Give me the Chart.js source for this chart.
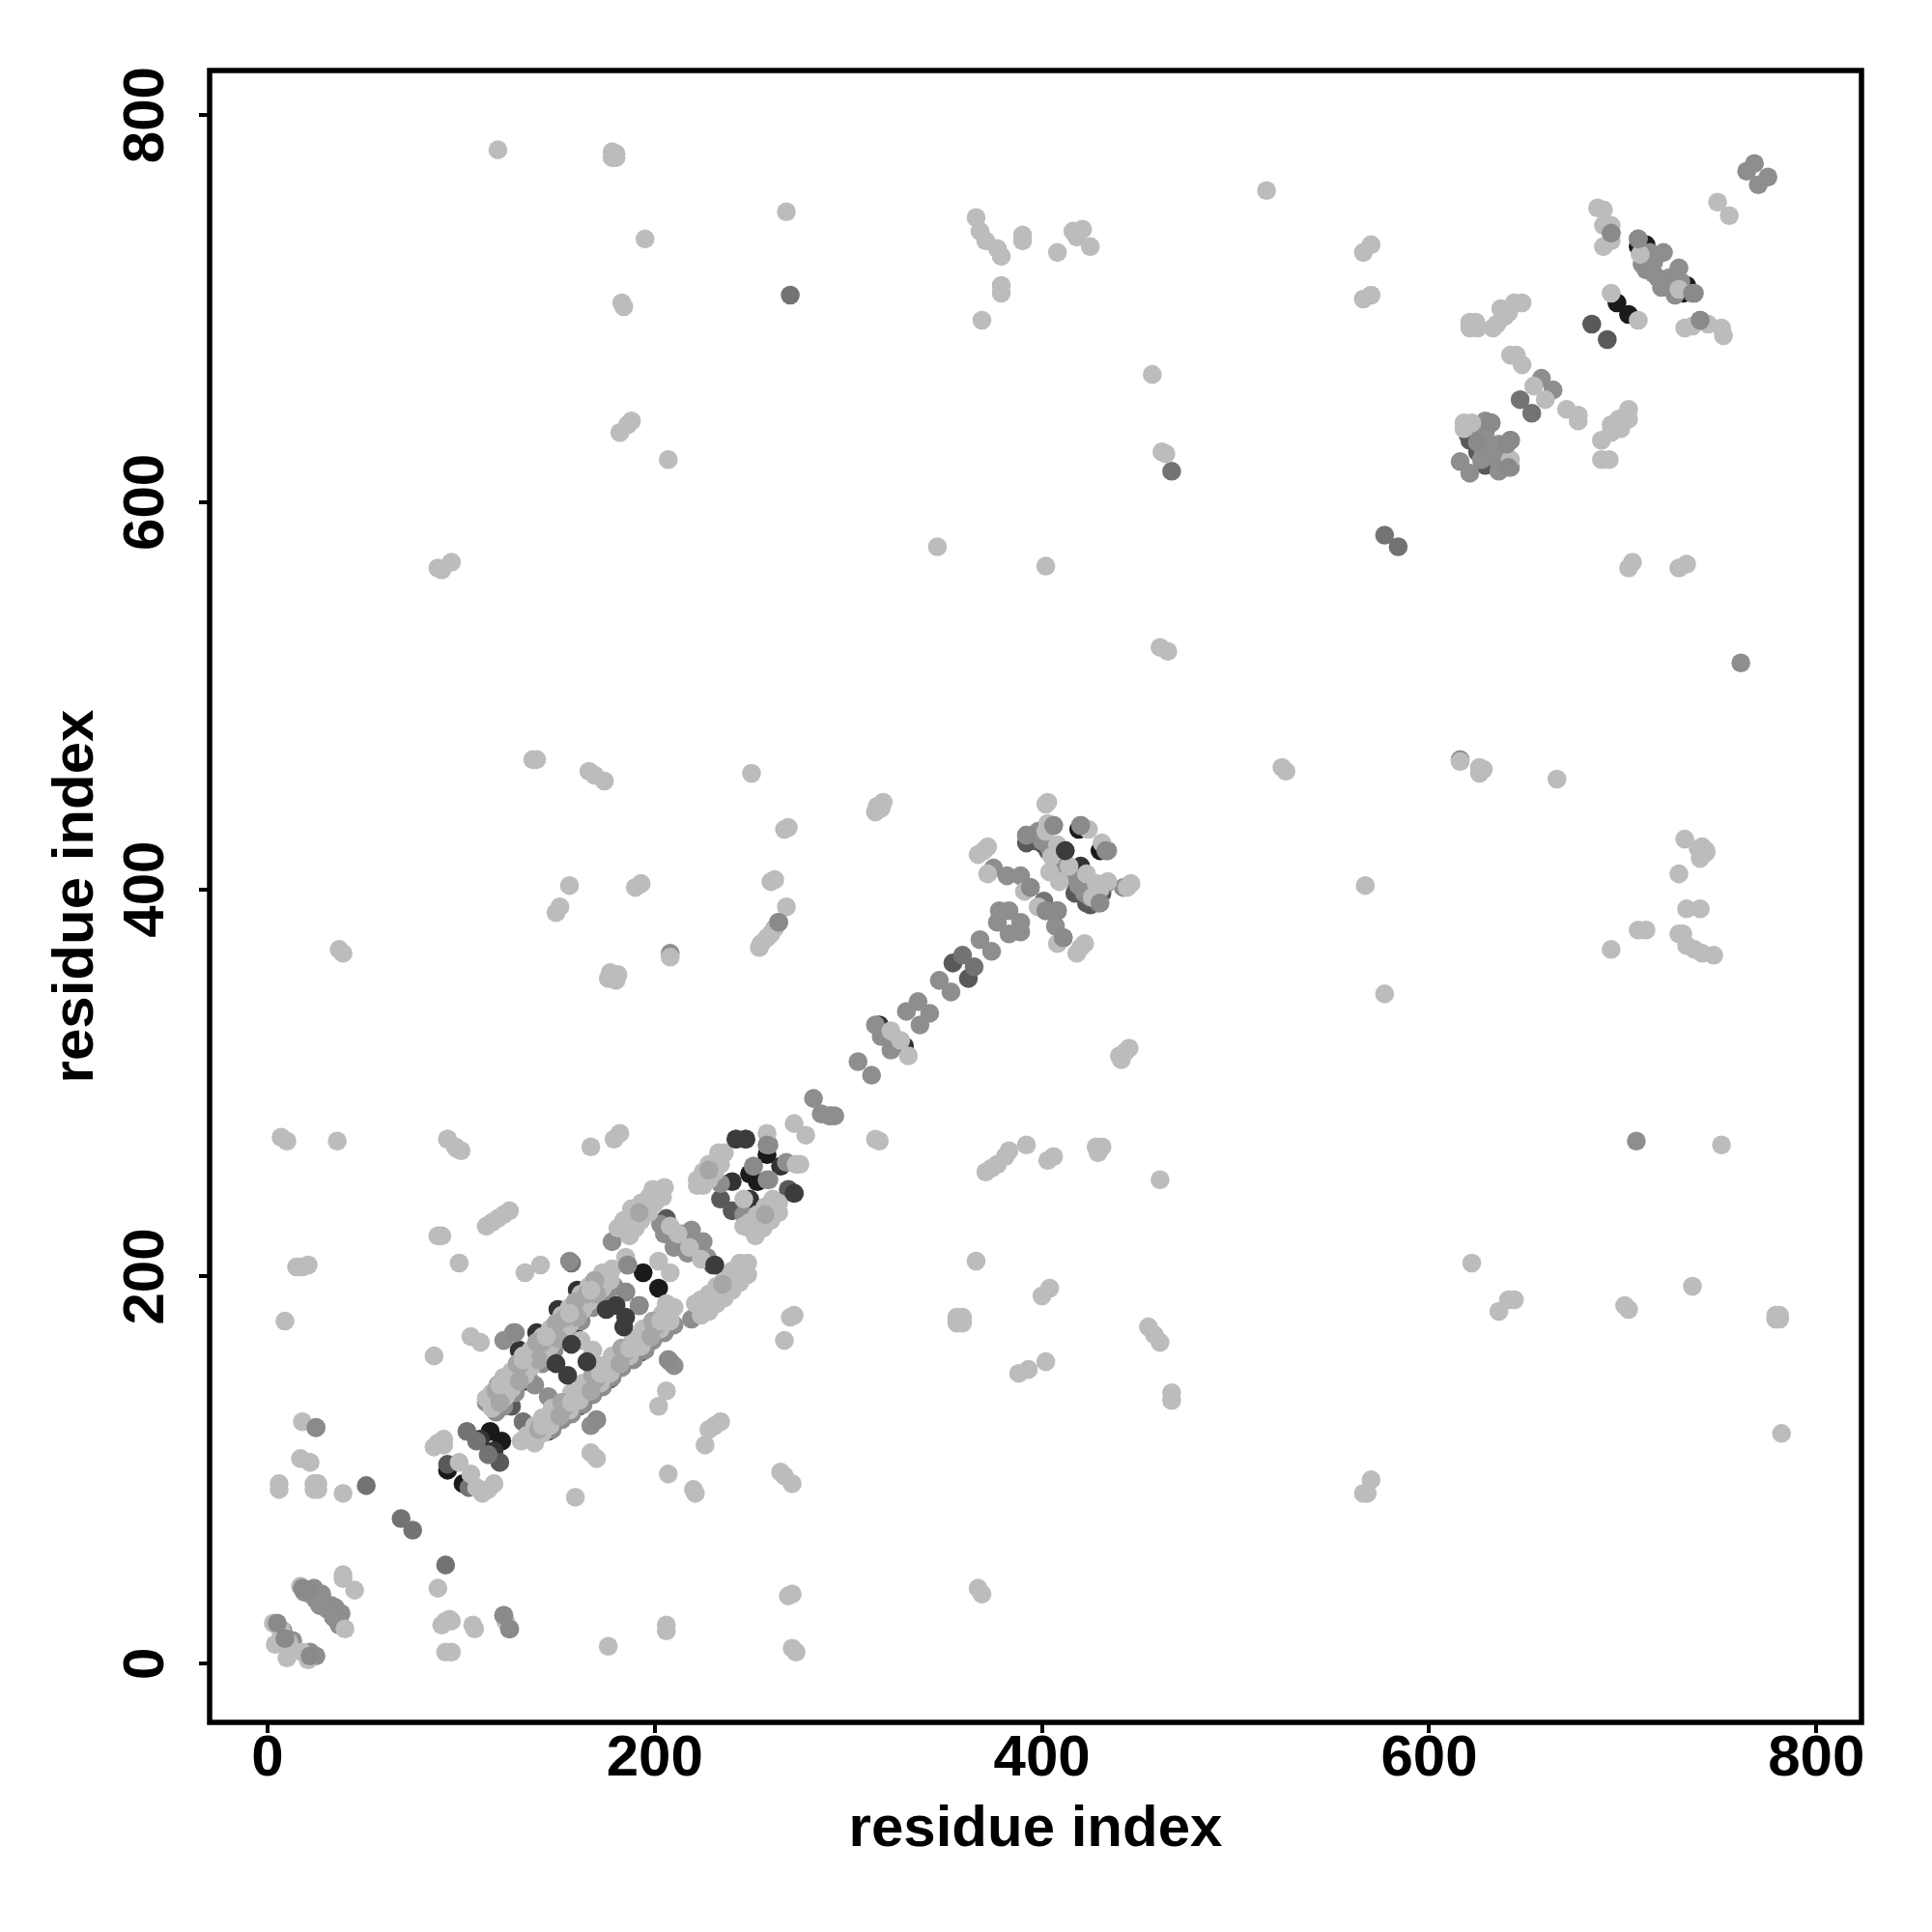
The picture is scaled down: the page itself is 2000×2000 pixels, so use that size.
<!DOCTYPE html>
<html>
<head>
<meta charset="utf-8">
<title>residue contact map</title>
<script src="https://cdn.jsdelivr.net/npm/chart.js@4/dist/chart.umd.min.js"></script>
<style>
  html, body { margin: 0; padding: 0; background: #fff; }
  canvas { display: block; }
</style>
</head>
<body>
<canvas id="contactMap" width="2000" height="2000"></canvas>
<script>
// contacts as [residue, residue], grouped by grey level, darkest first
const contactsBlack = [
  [194,202],[202,194],[115,120],[121,115],[93,100],[101,93],[249,253],[253,249],[258,263],
  [697,703],[703,697],[708,732],[712,733],[733,712],[731,708],[419,431],[430,420]
];
const contactsDark = [
  [110,116],[117,110],[240,249],[249,240],[272,243],[265,257],[247,271],[329,319],[316,330],[396,428],[401,423],
  [421,401],[433,403],[412,420],[420,412],[139,171],[150,183],[160,193],[130,162],[160,176],[146,161],[133,146],[170,188]
];
const contactsDarkMid = [
  [242,271],[234,240],[240,234],[269,245],[206,230],[230,206],[126,133],[93,103],[120,104],[354,362],[362,354],
  [392,424],[418,404],[423,393],[428,395],[621,632],[631,623],[620,635],[633,620],[684,692],[692,684],
  [193,161],[177,147],[161,133],[145,120],[397,425],[403,420],[412,406],[417,398],[425,392],[431,398],[428,399],
  [625,626],[637,625],[629,619],[626,636]
];
const contactsMid = [
  [132,125],[186,206],[185,192],[192,185],[103,120],[108,115],[114,108],[104,91],[157,207],[208,156],[270,707],
  [25,122],[69,75],[75,69],[92,51],[125,18],[51,92],[359,366],[365,360],[394,401],[401,394],[411,375],[429,393],
  [431,402],[420,433],[467,616],[577,583],[584,577],[632,641],[625,631],[642,632],[640,630],[647,653],[653,646]
];
const contactsGrey = [
  [251,257],[259,250],[259,268],[268,259],[234,248],[246,232],[178,218],[138,144],[145,138],[203,227],[212,220],
  [219,224],[225,218],[217,212],[219,178],[115,137],[113,135],[170,126],[167,123],[127,171],[122,167],[207,157],
  [210,154],[122,25],[18,39],[21,38],[24,37],[26,35],[28,33],[30,31],[33,30],[35,29],[36,26],[37,23],[5,20],
  [8,17],[13,12],[22,6],[25,4],[305,311],[312,304],[291,283],[286,284],[282,292],[290,283],[293,283],[336,342],
  [330,337],[342,336],[337,330],[314,330],[317,324],[322,317],[347,353],[353,347],[368,374],[374,368],[375,411],
  [382,407],[389,407],[378,389],[383,389],[389,383],[377,383],[383,377],[389,378],[408,389],[402,389],[407,381],
  [392,428],[406,433],[408,415],[434,420],[442,401],[616,467],[658,664],[664,658],[708,736],[694,739],[714,729],
  [721,729],[716,724],[712,720],[729,721],[724,716],[720,711],[737,708],[740,694],[616,621],[621,615],[629,642],
  [635,622],[638,618],[642,618],[768,775],[764,771],[775,768],[770,764],[761,517],[707,270],[208,367],[264,383],
  // band fringes
  [179,195],[175,190],[168,184],[162,177],[155,169],[148,162],[142,155],[135,147],[128,140],[122,133],[118,130],
  [210,175],[205,171],[199,167],[195,162],[189,157],[183,153],[178,148],[173,143],[168,139],[163,134],[157,129],
  [152,126],[147,121],[205,222],[208,224],[214,222],[210,215],[216,217],
  [221,213],[220,218],[227,210],[398,430],[400,425],[404,421],[407,418],[410,413],[413,409],[416,406],[419,402],
  [422,398],[425,396],[710,723],[714,720],[718,716],[722,712],[726,712],[730,714],[712,726],[716,718],[724,711],
  [727,707],[19,37],[22,36],[25,33],[24,39],[28,36],[27,30],[31,28],[36,22],[38,26],[34,24],[37,20],
  [625,638],[629,636],[636,630],[630,628],[627,622],[636,616],[628,626]
];
const contactsLight = [
  // scattered, upper half
  [119,782],[178,781],[180,780],[178,778],[180,778],[268,750],[195,736],[183,703],[184,701],[188,642],[186,640],[182,636],
  [207,622],[88,566],[90,565],[95,569],[137,467],[139,467],[166,461],[169,459],[174,456],[250,460],[267,431],[269,432],
  [260,404],[262,405],[268,391],[156,402],[151,391],[149,388],[193,403],[190,401],[37,369],[39,367],[176,354],[181,356],
  [177,357],[180,353],[208,365],[254,370],[255,372],[258,375],[260,377],[262,380],[7,272],[10,270],[36,270],[93,271],
  [97,267],[100,265],[167,267],[182,274],[179,271],[88,221],[90,221],[99,207],[18,205],[21,206],[15,205],[9,177],[86,159],
  [18,125],[17,106],[22,104],[6,93],[6,90],[24,93],[26,93],[24,90],[26,90],[39,88],[88,39],[92,22],[95,22],[90,20],[94,23],
  [106,20],[107,18],[123,22],[92,6],[95,6],[39,46],[39,44],[45,38],[3,21],[7,18],[4,10],[10,3],[18,6],[21,2],[7,14],[11,11],
  [17,40],[40,18],[176,9],[206,20],[206,17],[269,35],[271,36],[271,8],[273,6],[367,39],[369,36],[566,88],[568,88],[570,95],
  [221,88],[220,90],[207,98],[206,141],[202,133],[167,109],[170,106],[159,86],[267,167],[272,180],[270,179],[226,113],
  [228,121],[231,123],[234,125],[265,99],[267,97],[271,93],[366,208],[356,179],[359,179],[356,176],[359,176],[400,190],
  [404,194],[402,156],[388,150],[393,152],[467,140],[467,136],[455,174],[458,170],[461,166],[461,250],[403,260],[406,262],
  [428,267],[431,267],[429,264],[392,268],[371,254],[374,256],[377,258],[381,262],[383,265],[316,270],[314,271],[273,258],
  [278,273],[272,279],[443,316],[440,314],[445,318],[441,312],[577,346],[567,402],[516,761],[524,463],[526,461],[461,525],
  [465,523],[626,463],[628,462],[616,466],[666,457],[402,567],[346,577],[462,626],[464,625],[457,666],[566,729],[570,733],
  [566,705],[570,707],[408,729],[416,740],[421,741],[418,737],[425,732],[390,738],[390,735],[379,712],[379,708],[369,694],
  [366,747],[368,740],[371,735],[377,731],[379,727],[749,755],[755,748],
  // top right group
  [687,752],[690,751],[694,743],[690,743],[690,732],[694,735],[709,728],[729,710],[694,708],[708,694],[732,690],[736,691],
  [744,692],[751,690],[752,686],[621,693],[624,693],[621,690],[625,690],[633,690],[635,692],[637,700],[639,696],[641,698],
  [644,703],[648,703],[642,676],[645,676],[648,671],[654,660],[660,653],[671,648],[677,645],[677,642],[703,648],[703,643],
  [698,643],[694,640],[699,638],[689,632],[694,636],[689,622],[693,622],[618,641],[622,641],[618,638],[642,622],
  [705,569],[703,566],[729,566],[733,568],[751,268],[729,408],[732,426],[739,421],[741,422],[743,420],[740,416],[743,419],
  [733,390],[740,390],[708,379],[712,379],[694,369],[729,377],[731,377],[733,371],[737,369],[741,367],[747,366],[622,207],
  [641,188],[644,188],[636,182],[701,185],[703,183],[736,195],[779,180],[781,180],[779,178],[781,178],[782,119],[626,460],
  // centre diagonal
  [315,443],[318,445],[314,440],[317,442],[367,418],[370,420],[372,422],[372,408],[391,399],[398,391],[408,372],[418,367],
  [422,372],[420,370],[403,445],[402,444],[403,434],[408,423],[405,417],[404,409],[409,404],[423,408],[424,431],[431,424],
  [434,404],[446,403],[444,401],[322,327],[327,322],[331,314],[402,430],[414,412],[426,396],[430,400],[428,403],
  // upper block bands
  [236,264],[234,261],[231,259],[229,257],[228,255],[226,252],[222,247],[258,274],[275,258],[264,238],[261,236],[259,234],
  [257,232],[254,229],[252,227],[249,225],[246,240],[208,226],[224,209],[248,207],[246,205],[244,203],[241,201],[238,198],
  [235,196],[233,193],[230,191],[228,188],[226,186],[224,185],[205,246],[202,244],[199,245],[197,239],[195,236],[192,233],
  [189,231],[187,228],[185,225],[185,210],[178,204],[175,200],[173,197],[170,195],[168,193],[165,191],[163,189],[161,186],
  [159,184],[157,182],[154,179],[152,176],[149,173],[147,171],[144,169],[142,166],[140,164],[137,161],[135,159],[132,157],
  [130,154],[127,151],[125,149],[123,147],[120,144],[118,141],[116,139],[202,208],[208,202],
  [210,184],[208,181],[206,179],[203,177],[201,175],[199,173],[196,171],[193,168],[191,166],[188,163],[185,161],[183,159],
  [180,157],[177,154],[175,152],[172,150],[170,147],[167,145],[165,143],[162,140],[159,138],[157,135],[154,133],[152,132],
  [149,130],[147,127],[144,125],[142,123],[140,121],[137,118],[134,116],[131,115],
  [93,271],[98,266],[125,234],[122,232],[119,230],[116,228],[113,226],[133,202],[141,206],[105,169],[110,166],
  [91,116],[88,114],[86,112],[91,113],[99,104],[105,98],[111,88],[114,90],[117,93],[108,91],
  // second and third rows of the wide bands
  [197,241],[193,238],[188,235],[184,229],[181,225],[204,241],[200,238],[197,233],[193,229],[190,225],[187,221],
  [173,202],[169,198],[166,195],[162,191],[159,187],[156,184],[152,180],[149,176],[146,173],[142,169],[139,166],
  [136,162],[132,159],[129,155],[126,151],[122,148],[119,144],[116,140],[113,137],
  [177,198],[173,194],[170,191],[166,187],[163,183],[160,179],[156,175],[153,171],[150,168],[146,164],[143,160],
  [140,157],[136,153],[133,149],[130,146],[126,142],[123,138],[120,135],[116,132],
  [206,186],[204,181],[199,177],[194,173],[189,168],[183,163],[178,159],[173,154],[168,149],[163,145],[157,140],
  [152,135],[147,132],[142,127],[138,123],[134,118],
  [208,177],[203,173],[198,169],[193,164],[187,159],[182,155],[177,150],[172,145],[167,141],[161,136],[156,131],
  [151,128],[146,123],[142,119],[138,114],
  [233,264],[228,258],[225,254],[222,250],[234,258],[231,254],[228,250],[225,247],
  [261,240],[257,236],[253,232],[249,228],[246,226],[264,233],[260,229],[256,225],[252,221],
  [244,207],[240,203],[236,199],[232,195],[228,191],[224,188],[221,186],[248,201],[244,197],[240,193],[236,189],
  [232,186],[228,182],[224,180],[212,222],[218,215]
];
// slightly darker streaks across the bands
const contactsSoft = [
  [169,198],[159,187],[149,176],[139,166],[129,155],[119,144],[165,191],[154,179],[142,166],[130,154],[118,141],
  [170,191],[160,179],[150,168],[140,157],[130,146],[120,135],[199,177],[183,163],[168,149],[152,135],[201,175],
  [185,161],[170,147],[154,133],[140,121],[198,169],[182,155],[167,141],[151,128],[228,255],[257,232],[235,196],[192,233]
];
const contactsLightTop = [
  [167,193],[156,181],[144,169],[132,157],[120,144],[203,177],[187,163],[172,150],[157,135],[142,123],[162,167],[168,162]
];
// these sit on top of the light dots in the picture
const contactsGreyTop = [
  [5,21],[9,13],[22,4],[18,39],[21,38],[694,739],[740,694],[264,383],[632,641],[625,631],[642,632],[640,630],[641,618],
  [258,268],[251,257],[258,250],[185,192],[192,185],[186,206],[430,393],[433,420],[420,433],[406,433],[392,428],[408,389],
  [402,389],[394,401],[411,375],[736,708],[708,736],[128,171],[156,208],[207,157],[125,18],[122,25],[170,126],[25,122]
];
const contactsDarkTop = [
  [231,206],[247,271],[272,243],[412,420],[242,271],[175,183],[180,185],[185,179],[184,174],[157,165],[149,155],[155,149],[165,156]
];

const shadeColors = ['#1a1a1a', '#333333', '#595959', '#737373', '#8e8e8e', '#bcbcbc', '#a6a6a6', '#bcbcbc', '#8a8a8a', '#3c3c3c'];
const contactGroups = [contactsBlack, contactsDark, contactsDarkMid, contactsMid, contactsGrey, contactsLight, contactsSoft, contactsLightTop, contactsGreyTop, contactsDarkTop];
const tickValues = [0, 200, 400, 600, 800];
const axisLabel = 'residue index';

const fontFamily = '"Liberation Sans", Arial, sans-serif';

// R style box around the plot
const boxPlugin = {
  id: 'plotBox',
  afterDraw(chart) {
    const { ctx, chartArea } = chart;
    ctx.save();
    ctx.strokeStyle = '#000';
    ctx.lineWidth = 5.5;
    ctx.strokeRect(chartArea.left, chartArea.top, chartArea.right - chartArea.left, chartArea.bottom - chartArea.top);
    ctx.restore();
  }
};

function axisOptions(min, max, isY) {
  return {
    type: 'linear',
    min: min,
    max: max,
    afterBuildTicks: axis => { axis.ticks = tickValues.map(v => ({ value: v })); },
    afterFit: axis => {
      if (isY) axis.width = 217; else axis.height = 217;
    },
    border: { display: false },
    grid: { drawOnChartArea: false, drawTicks: true, tickLength: 11, lineWidth: 4, color: '#000' },
    ticks: {
      color: '#000',
      font: { family: fontFamily, size: 60, weight: 'bold' },
      padding: isY ? 3 : -9,
      minRotation: isY ? 90 : 0,
      maxRotation: isY ? 90 : 0,
      crossAlign: isY ? 'center' : 'near',
      autoSkip: false
    },
    title: {
      display: true,
      text: axisLabel,
      color: '#000',
      font: { family: fontFamily, size: 60, weight: 'bold' },
      padding: isY ? { top: 43, bottom: 0 } : { top: 0, bottom: 70 }
    }
  };
}

new Chart(document.getElementById('contactMap'), {
  type: 'scatter',
  data: {
    datasets: contactGroups.map((group, i) => ({
      data: group.map(p => ({ x: p[0], y: p[1] })),
      backgroundColor: shadeColors[i],
      borderWidth: 0,
      pointRadius: 9.8,
      // first groups go underneath
      order: contactGroups.length - i
    }))
  },
  options: {
    responsive: false,
    animation: false,
    layout: { padding: { top: 73, right: 73, left: 0, bottom: 0 } },
    plugins: { legend: { display: false }, tooltip: { enabled: false } },
    scales: {
      x: axisOptions(-29.9, 823.3, false),
      y: axisOptions(-30.3, 823, true)
    }
  },
  plugins: [boxPlugin]
});
</script>
</body>
</html>
